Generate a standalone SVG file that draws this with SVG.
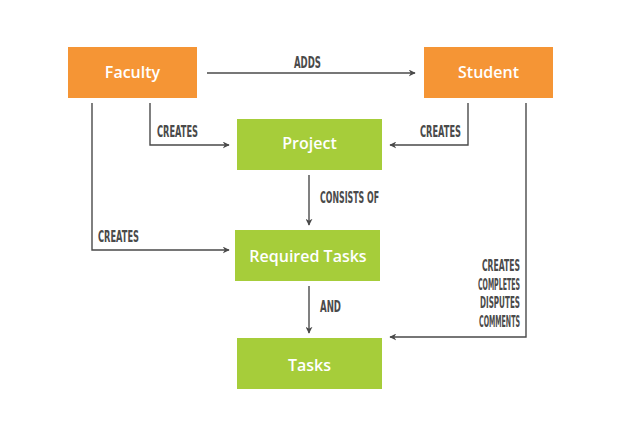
<svg xmlns="http://www.w3.org/2000/svg" width="620" height="421" viewBox="0 0 620 421">
<defs>
<marker id="arr" viewBox="0 0 10 10" refX="9" refY="5" markerWidth="7" markerHeight="7" markerUnits="userSpaceOnUse" orient="auto">
<path d="M0,0 L10,5 L0,10 L3,5 z" fill="#4a4a4a"/>
</marker>
<style>
.or{fill:#F59535}
.gr{fill:#A6CD3A}
.bl{font-family:"Open Sans","Noto Sans",sans-serif;font-weight:600;font-size:16px;fill:#fff;text-anchor:middle}
.ln{fill:none;stroke:#4a4a4a;stroke-width:1.4;marker-end:url(#arr)}
.lb{font-family:"Liberation Sans Narrow","DejaVu Sans Condensed","Liberation Sans",sans-serif;font-weight:bold;font-size:15.5px;fill:#4a4a4a}
</style>
</defs>
<rect width="620" height="421" fill="#fff"/>
<g id="faculty"><rect class="or" x="68" y="47" width="129" height="51"/><text class="bl" x="132.5" y="77.5">Faculty</text></g>
<g id="student"><rect class="or" x="424" y="47" width="129" height="51"/><text class="bl" x="488.5" y="77.5">Student</text></g>
<g id="project"><rect class="gr" x="237" y="119" width="145" height="51"/><text class="bl" x="309.5" y="149">Project</text></g>
<g id="required"><rect class="gr" x="235" y="230" width="145" height="51"/><text class="bl" x="308" y="262">Required Tasks</text></g>
<g id="tasks"><rect class="gr" x="237" y="338" width="145" height="51"/><text class="bl" x="309.5" y="371">Tasks</text></g>
<g id="connectors">
<path class="ln" d="M207,73 L415,73"/>
<path class="ln" d="M150,103 L150,145 L229,145"/>
<path class="ln" d="M92,103 L92,250 L229,250"/>
<path class="ln" d="M468,103 L468,145 L390,145"/>
<path class="ln" d="M526,103 L526,337 L390,337"/>
<path class="ln" d="M309,175 L309,225"/>
<path class="ln" d="M309,286 L309,333"/>
</g>
<g id="labels">
<text class="lb" x="294" y="68" textLength="27" lengthAdjust="spacingAndGlyphs">ADDS</text>
<text class="lb" x="157" y="137" textLength="41" lengthAdjust="spacingAndGlyphs">CREATES</text>
<text class="lb" x="420" y="137" textLength="41" lengthAdjust="spacingAndGlyphs">CREATES</text>
<text class="lb" x="98" y="242" textLength="41" lengthAdjust="spacingAndGlyphs">CREATES</text>
<text class="lb" x="320" y="203" textLength="59" lengthAdjust="spacingAndGlyphs">CONSISTS OF</text>
<text class="lb" x="320" y="312" textLength="21" lengthAdjust="spacingAndGlyphs">AND</text>
<text class="lb" x="482" y="271" textLength="38" lengthAdjust="spacingAndGlyphs">CREATES</text>
<text class="lb" x="478" y="290" textLength="42" lengthAdjust="spacingAndGlyphs">COMPLETES</text>
<text class="lb" x="480" y="308" textLength="40" lengthAdjust="spacingAndGlyphs">DISPUTES</text>
<text class="lb" x="479" y="327" textLength="41" lengthAdjust="spacingAndGlyphs">COMMENTS</text>
</g>
</svg>
